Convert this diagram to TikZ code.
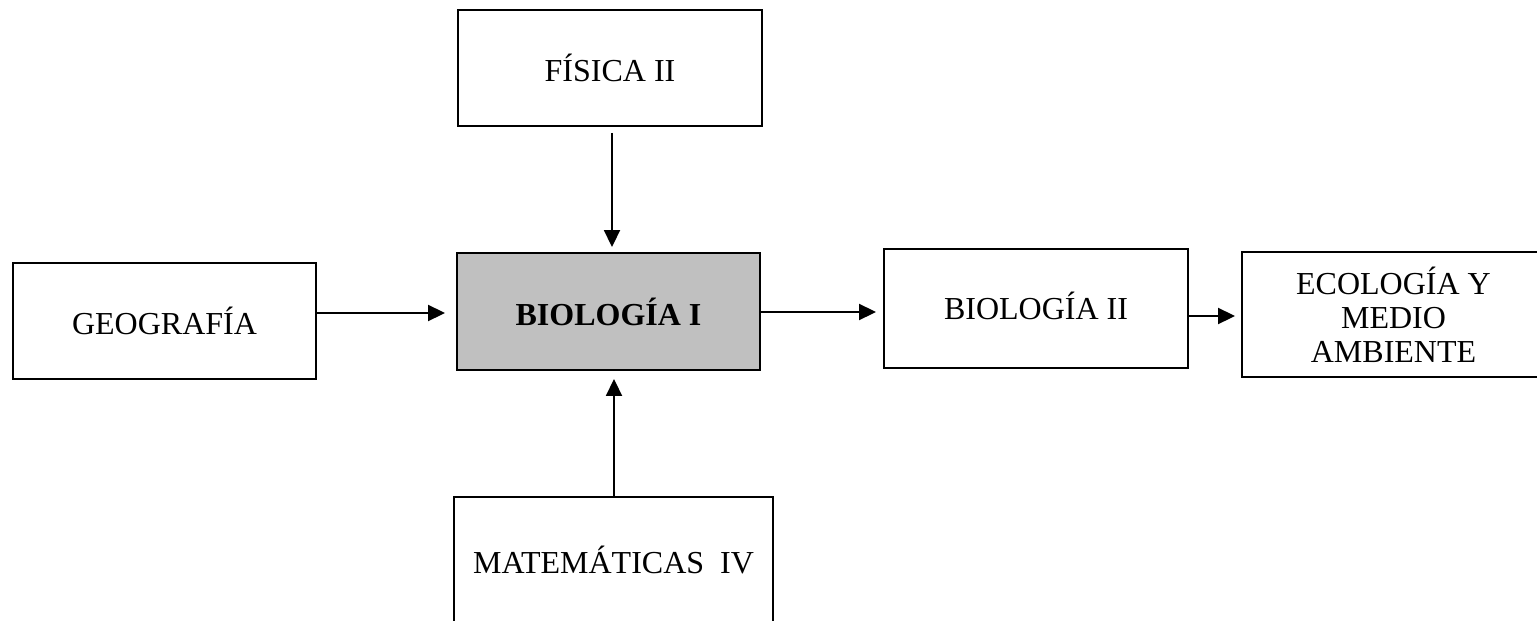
\documentclass[tikz,border=0pt]{standalone}
\usepackage{fontspec}
\setmainfont{Liberation Serif}
\usetikzlibrary{arrows.meta}
\begin{document}
\begin{tikzpicture}[x=1pt,y=-1pt,
  box/.style={draw=black,line width=1.9pt,rectangle,inner sep=0pt,align=center,
    font=\fontsize{32}{34}\selectfont},
  conn/.style={line width=1.9pt,-{Triangle[length=17pt,width=16pt]}}]
\useasboundingbox (0,0) rectangle (1537,621);
\clip (0,0) rectangle (1537,621);
\node[box,minimum width=304pt,minimum height=116pt] (fis) at (610,68) {FÍSICA II};
\node[box,minimum width=303pt,minimum height=116pt] (geo) at (164.5,321) {GEOGRAFÍA};
\node[box,fill={rgb,255:red,192;green,192;blue,192},minimum width=303pt,minimum height=117pt] (bioa) at (608.5,311.5) {\bfseries BIOLOGÍA I};
\node[box,minimum width=304pt,minimum height=119pt] (biob) at (1036,308.5) {\raisebox{5pt}{BIOLOGÍA II}};
\node[box,minimum width=303pt,minimum height=125pt] (eco) at (1393.5,314.5) {ECOLOGÍA Y\\MEDIO\\AMBIENTE};
\node[box,minimum width=319pt,minimum height=127pt] (mat) at (613.5,560.5) {MATEMÁTICAS\ \ IV};
\coordinate (ya) at (0,313);
\coordinate (yb) at (0,312);
\coordinate (yc) at (0,316);
\coordinate (xa) at (612,0);
\coordinate (xb) at (614,0);
\draw[conn,shorten <=6pt,shorten >=5pt] (fis.south -| xa) -- (bioa.north -| xa);
\draw[conn,shorten >=11pt] (geo.east |- ya) -- (bioa.west |- ya);
\draw[conn,shorten >=7pt] (bioa.east |- yb) -- (biob.west |- yb);
\draw[conn,shorten >=6pt] (biob.east |- yc) -- (eco.west |- yc);
\draw[conn,shorten >=8pt] (mat.north -| xb) -- (bioa.south -| xb);
\end{tikzpicture}
\end{document}
